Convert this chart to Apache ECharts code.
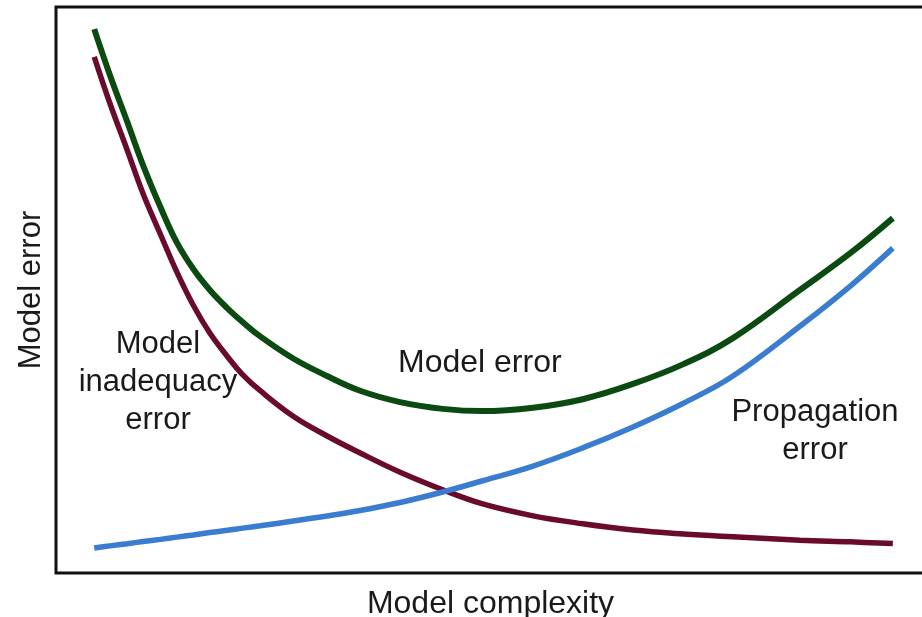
<!DOCTYPE html>
<html>
<head>
<meta charset="utf-8">
<script src="https://cdn.jsdelivr.net/npm/echarts@6/dist/echarts.min.js"></script>
<style>
html,body{margin:0;padding:0;background:#fff;}
#chart{width:922px;height:617px;}
</style>
</head>
<body>
<div id="chart"></div>
<script>
// Model complexity (arbitrary units)
var complexity = [0.44, 0.62, 0.82, 1.00, 1.20, 1.39, 1.58, 1.77, 1.97, 2.15, 2.35, 2.73, 3.12, 3.50, 3.96, 4.45, 4.91, 5.49, 6.06, 6.64, 7.22, 7.79, 8.56, 9.14, 9.63];
// Model error (total)
var modelError = [96.1, 88.0, 79.7, 72.1, 64.7, 58.4, 53.7, 50.0, 46.8, 44.3, 41.8, 37.9, 34.8, 32.2, 30.2, 29.0, 28.6, 29.2, 30.7, 33.4, 36.9, 41.5, 50.0, 56.5, 62.7];
// Model inadequacy error
var inadequacyError = [91.2, 83.0, 74.7, 67.1, 59.9, 53.2, 47.3, 42.4, 38.3, 35.0, 32.2, 27.7, 24.2, 21.2, 17.8, 14.7, 12.2, 10.1, 8.7, 7.6, 6.9, 6.4, 5.8, 5.5, 5.2];
// Propagation error
var propagationError = [4.42, 4.79, 5.18, 5.55, 5.94, 6.34, 6.73, 7.14, 7.54, 7.93, 8.34, 9.19, 10.07, 11.04, 12.46, 14.31, 16.3, 18.9, 22.1, 25.8, 30.0, 34.8, 43.6, 50.7, 57.4];

var xName = 'Model complexity';
var yName = 'Model error';
var labelModelError = 'Model error';
var labelInadequacy = 'Model\ninadequacy\nerror';
var labelPropagation = 'Propagation\nerror';

function pairs(xs, ys) { return xs.map(function (x, i) { return [x, ys[i]]; }); }

var FONT = '"Liberation Sans", Arial, Helvetica, sans-serif';
var chart = echarts.init(document.getElementById('chart'));
chart.setOption({
  animation: false,
  backgroundColor: '#ffffff',
  grid: { left: 56, right: -3, top: 7, bottom: 44, outerBoundsMode: 'none', containLabel: false,
          show: true, borderColor: '#111', borderWidth: 3, backgroundColor: 'transparent' },
  xAxis: {
    type: 'value', min: 0, max: 10,
    name: xName, nameLocation: 'middle', nameGap: 15,
    nameTextStyle: { fontSize: 32, color: '#1a1a1a', fontFamily: FONT, verticalAlign: 'top' },
    axisLine: { show: false }, axisTick: { show: false }, axisLabel: { show: false }, splitLine: { show: false }
  },
  yAxis: {
    type: 'value', min: 0, max: 100,
    name: yName, nameLocation: 'middle', nameGap: 9,
    nameTextStyle: { fontSize: 31, color: '#1a1a1a', fontFamily: FONT },
    axisLine: { show: false }, axisTick: { show: false }, axisLabel: { show: false }, splitLine: { show: false }
  },
  series: [
    { type: 'line', name: 'Model inadequacy error', data: pairs(complexity, inadequacyError), smooth: 0.4, showSymbol: false,
      lineStyle: { color: '#6a0a2c', width: 5.5 } },
    { type: 'line', name: 'Propagation error', data: pairs(complexity, propagationError), smooth: 0.4, showSymbol: false,
      lineStyle: { color: '#3a7ccf', width: 5.5 } },
    { type: 'line', name: 'Model error', data: pairs(complexity, modelError), smooth: 0.4, showSymbol: false,
      lineStyle: { color: '#0b4a10', width: 6 } }
  ],
  graphic: [
    { type: 'text', left: 398, top: 347, style: { text: labelModelError, font: '32px ' + FONT, fill: '#1a1a1a' } },
    { type: 'text', x: 158, y: 325, style: { text: labelInadequacy, font: '31px ' + FONT, fill: '#1a1a1a', textAlign: 'center', lineHeight: 38 } },
    { type: 'text', x: 815, y: 393, style: { text: labelPropagation, font: '31px ' + FONT, fill: '#1a1a1a', textAlign: 'center', lineHeight: 38 } }
  ]
});
</script>
</body>
</html>
